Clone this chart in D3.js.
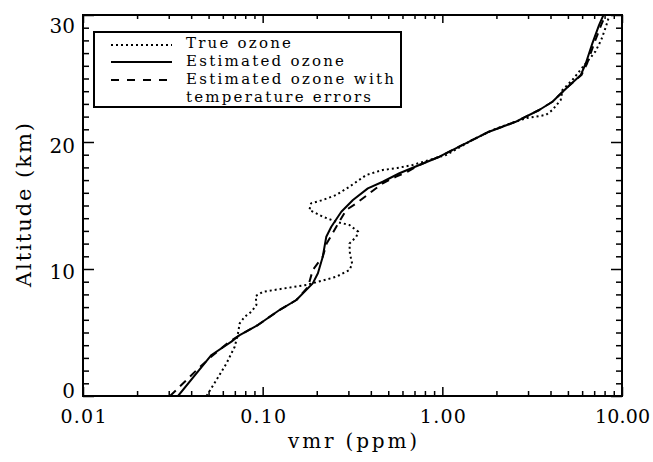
<!DOCTYPE html>
<html>
<head>
<meta charset="utf-8">
<script src="https://cdn.jsdelivr.net/npm/d3@7"></script>
<style>
  html, body { margin: 0; padding: 0; background: #fff; }
  svg { display: block; }
</style>
</head>
<body>
<div id="chart"></div>
<script>
// Ozone profiles: vmr (ppm) vs altitude (km)

const trueAlt = [0, 1.26, 2.57, 3.88, 4.94, 5.72, 6.24, 6.64, 7.17, 7.87, 8.21, 8.74, 9.39, 9.92, 10.4, 11.2, 12.0, 12.54, 12.94, 13.46, 13.72, 14.12, 14.65, 15.17, 15.43, 15.83, 16.48, 17.4, 17.8, 17.95, 18.19, 18.98, 20.16, 20.94, 21.34, 21.87, 22.13, 22.52, 23.31, 24.09, 24.88, 25.54, 26.2, 27.11, 28.03, 29.08, 30.2];
const trueVmr = [0.0487, 0.0553, 0.0629, 0.0699, 0.0729, 0.0745, 0.0794, 0.0866, 0.0923, 0.0915, 0.1004, 0.175, 0.257, 0.304, 0.315, 0.306, 0.304, 0.332, 0.34, 0.304, 0.257, 0.216, 0.182, 0.186, 0.216, 0.257, 0.304, 0.377, 0.466, 0.56, 0.684, 1.05, 1.47, 1.90, 2.26, 2.92, 3.77, 4.10, 4.56, 4.66, 5.29, 5.77, 6.29, 7.1, 7.66, 8.14, 8.6];

const estAlt = [0, 3.23, 4.28, 4.8, 5.59, 6.77, 7.56, 8.87, 9.66, 10.97, 12.54, 13.33, 14.51, 15.43, 16.35, 16.87, 17.54, 18.19, 18.84, 19.9, 20.81, 21.6, 22.52, 23.17, 24.35, 25.28, 26.2, 27.77, 29.2, 30.2];
const estVmr = [0.0338, 0.0519, 0.067, 0.0745, 0.0941, 0.124, 0.154, 0.19, 0.203, 0.216, 0.226, 0.241, 0.274, 0.318, 0.385, 0.466, 0.577, 0.745, 0.963, 1.35, 1.82, 2.57, 3.46, 4.10, 5.0, 5.90, 6.29, 6.84, 7.45, 8.0];

const estTAlt = [0, 1.0, 1.9, 3.0, 4.17, 4.8, 5.59, 6.77, 7.56, 8.6, 9.92, 10.97, 12.0, 13.33, 14.65, 15.17, 15.96, 16.75, 17.27, 17.66, 18.19, 18.84, 19.9, 20.81, 21.6, 22.52, 23.17, 24.35, 25.28, 26.2, 27.77, 29.2, 30.2];
const estTVmr = [0.0305, 0.0361, 0.0419, 0.0508, 0.0639, 0.0745, 0.094, 0.124, 0.154, 0.179, 0.19, 0.216, 0.227, 0.257, 0.292, 0.332, 0.393, 0.466, 0.553, 0.641, 0.745, 0.963, 1.35, 1.82, 2.57, 3.46, 4.10, 5.0, 5.95, 6.4, 7.0, 7.65, 8.2];

const xMajor = [0.01, 0.1, 1, 10];
const yMajor = [0, 10, 20, 30];
const legendLabels = ['True ozone', 'Estimated ozone', 'Estimated ozone with', 'temperature errors'];

(function () {
    const FONT = '"DejaVu Serif", "Liberation Serif", serif';
    const width = 653, height = 462;
    const margin = { top: 15, right: 31, bottom: 66, left: 83 };
    const innerW = width - margin.left - margin.right;
    const innerH = height - margin.top - margin.bottom;

    const svg = d3.select('#chart').append('svg')
        .attr('width', width).attr('height', height)
        .attr('viewBox', `0 0 ${width} ${height}`);

    const g = svg.append('g').attr('transform', `translate(${margin.left},${margin.top})`);

    const xScale = d3.scaleLog().domain([0.01, 10]).range([0, innerW]);
    const yScale = d3.scaleLinear().domain([0, 30]).range([innerH, 0]);

    const xMinor = xScale.ticks().filter(v => !xMajor.some(m => Math.abs(m - v) < 1e-9));
    const yMinor = d3.range(0, 31, 1).filter(v => !yMajor.includes(v));

    g.append('clipPath').attr('id', 'plotClip')
        .append('rect').attr('width', innerW).attr('height', innerH);

    // ── Ticks (all pointing inward, on all four sides) ──────────────────────
    const styleAxis = sel => {
        sel.select('.domain').remove();
        sel.selectAll('line').attr('stroke', '#000').attr('stroke-width', 1.5);
    };

    g.append('g').attr('transform', `translate(0,${innerH})`)
        .call(d3.axisBottom(xScale).tickValues(xMinor).tickSize(-5).tickFormat(''))
        .call(styleAxis);
    g.append('g').attr('transform', `translate(0,${innerH})`)
        .call(d3.axisBottom(xScale).tickValues(xMajor).tickSize(-9).tickPadding(27)
            .tickFormat(d3.format('.2f')))
        .call(styleAxis)
        .selectAll('text').attr('font-family', FONT).attr('font-size', '19px')
        .attr('fill', '#000').attr('dy', 0)
        .attr('textLength', d => d >= 10 ? 55 : 46).attr('lengthAdjust', 'spacing');
    g.append('g')
        .call(d3.axisTop(xScale).tickValues(xMinor).tickSize(-4).tickFormat(''))
        .call(styleAxis);
    g.append('g')
        .call(d3.axisTop(xScale).tickValues(xMajor).tickSize(-8).tickFormat(''))
        .call(styleAxis);

    // y tick label baselines sit a little off the tick in the original
    const yLabelShift = { 0: 1, 10: 9, 20: 10, 30: 17 };
    g.append('g')
        .call(d3.axisLeft(yScale).tickValues(yMinor).tickSize(-6).tickFormat(''))
        .call(styleAxis);
    g.append('g')
        .call(d3.axisLeft(yScale).tickValues(yMajor).tickSize(-11).tickPadding(8))
        .call(styleAxis)
        .selectAll('text').attr('font-family', FONT).attr('font-size', '20px')
        .attr('fill', '#000').attr('dy', d => yLabelShift[d]);
    g.append('g').attr('transform', `translate(${innerW},0)`)
        .call(d3.axisRight(yScale).tickValues(yMinor).tickSize(-6).tickFormat(''))
        .call(styleAxis);
    g.append('g').attr('transform', `translate(${innerW},0)`)
        .call(d3.axisRight(yScale).tickValues(yMajor).tickSize(-11).tickFormat(''))
        .call(styleAxis);

    // ── Profiles ────────────────────────────────────────────────────────────
    const lineGen = d3.line().x(d => xScale(d[1])).y(d => yScale(d[0]));
    const series = [
        { alt: trueAlt, vmr: trueVmr, dash: '2,3' },
        { alt: estAlt, vmr: estVmr, dash: null },
        { alt: estTAlt, vmr: estTVmr, dash: '8,6' }
    ];
    const lines = g.append('g').attr('clip-path', 'url(#plotClip)');
    series.forEach(s => {
        lines.append('path')
            .datum(d3.zip(s.alt, s.vmr))
            .attr('fill', 'none')
            .attr('stroke', '#000')
            .attr('stroke-width', 2)
            .attr('stroke-dasharray', s.dash)
            .attr('stroke-linejoin', 'round')
            .attr('d', lineGen);
    });

    // Frame
    g.append('rect').attr('width', innerW).attr('height', innerH)
        .attr('fill', 'none').attr('stroke', '#000').attr('stroke-width', 2);

    // ── Axis titles ─────────────────────────────────────────────────────────
    svg.append('text')
        .attr('x', margin.left + innerW / 2).attr('y', 448)
        .attr('text-anchor', 'middle').attr('font-family', FONT).attr('font-size', '20px')
        .attr('textLength', 129).attr('lengthAdjust', 'spacing')
        .text('vmr (ppm)');

    svg.append('text')
        .attr('transform', 'translate(31,205) rotate(-90)')
        .attr('text-anchor', 'middle').attr('font-family', FONT).attr('font-size', '21px')
        .attr('textLength', 164).attr('lengthAdjust', 'spacing')
        .text('Altitude (km)');

    // ── Legend ──────────────────────────────────────────────────────────────
    const legend = svg.append('g');
    legend.append('rect')
        .attr('x', 94).attr('y', 32).attr('width', 307).attr('height', 75)
        .attr('fill', '#fff').attr('stroke', '#000').attr('stroke-width', 2);

    const sampleY = [45, 62, 80];
    series.forEach((s, i) => {
        legend.append('line')
            .attr('x1', 111).attr('x2', i === 2 ? 167 : 172)
            .attr('y1', sampleY[i]).attr('y2', sampleY[i])
            .attr('stroke', '#000').attr('stroke-width', 2)
            .attr('stroke-dasharray', i === 2 ? '8,8' : s.dash);
    });

    const textY = [48, 66, 84, 102];
    const textW = [105, 158, 208, 185];
    legendLabels.forEach((t, i) => {
        legend.append('text')
            .attr('x', 186).attr('y', textY[i])
            .attr('font-family', FONT).attr('font-size', '15px')
            .attr('textLength', textW[i]).attr('lengthAdjust', 'spacing')
            .text(t);
    });
})();
</script>
</body>
</html>
